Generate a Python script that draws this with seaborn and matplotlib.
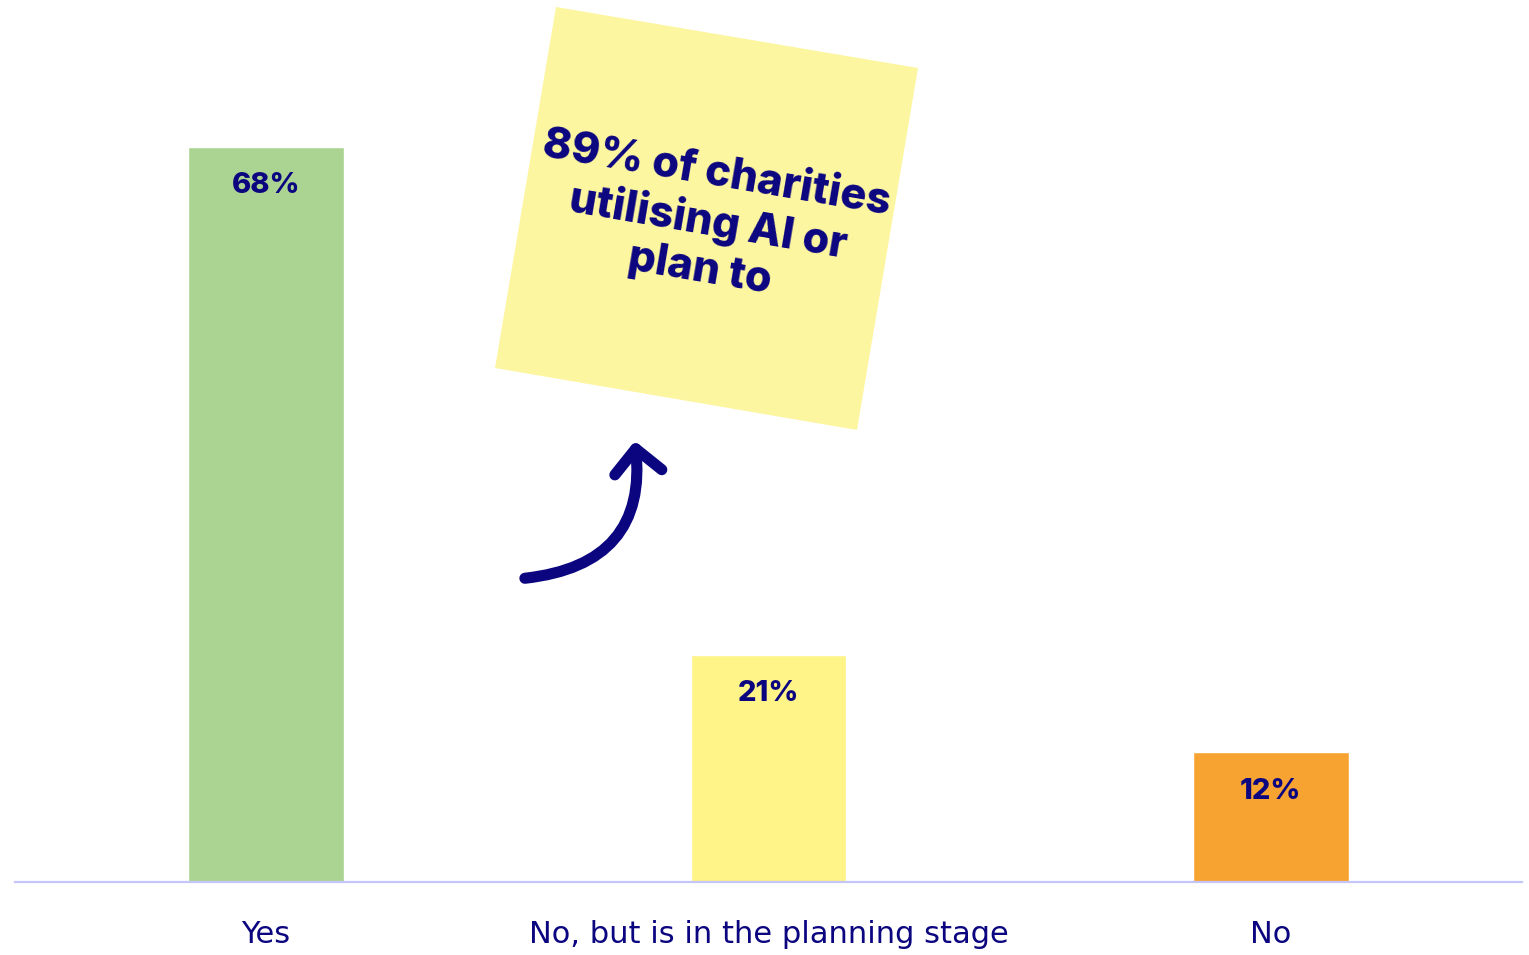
import matplotlib
matplotlib.use("Agg")
import matplotlib.pyplot as plt
import seaborn as sns
import pandas as pd
from matplotlib.patches import Polygon

categories = ["Yes", "No, but is in the planning stage", "No"]
values = [68, 21, 12]
value_labels = ["68%", "21%", "12%"]
bar_colors = ["#abd493", "#fef488", "#f7a331"]
note_text = "89% of charities\nutilising AI or\nplan to"

NAVY = "#0b0580"

sns.set_theme(style="white")
plt.rcParams["font.family"] = ["Inter", "DejaVu Sans"]

df = pd.DataFrame({"category": categories, "value": values})

W, H = 1529, 955
fig = plt.figure(figsize=(W / 100, H / 100), dpi=100)
ax = fig.add_axes([15 / W, (H - 882) / H, (1522 - 15) / W, 882 / H])

sns.barplot(data=df, x="category", y="value", hue="category", palette=bar_colors,
            width=0.31, legend=False, ax=ax, saturation=1)

ax.set_xlim(-0.5, 2.5)
ax.set_ylim(0, 81.6)
ax.set_xlabel("")
ax.set_ylabel("")
ax.set_yticks([])
for s in ["top", "right", "left"]:
    ax.spines[s].set_visible(False)
ax.spines["bottom"].set_color("#c3c6f7")
ax.spines["bottom"].set_linewidth(1.6)
ax.tick_params(axis="x", length=0, pad=27, labelsize=22, labelcolor=NAVY)
for t in ax.get_xticklabels():
    t.set_fontfamily(["DejaVu Sans"])

for i, (v, lab) in enumerate(zip(values, value_labels)):
    ax.text(i, v - 3.6, lab, ha="center", va="center", fontsize=21,
            fontweight="heavy", color=NAVY)

# sticky note
corners_px = [(556, 7), (918, 68), (857, 430), (495, 368)]
corners = [(x / W, (H - y) / H) for x, y in corners_px]
fig.patches.append(Polygon(corners, closed=True, transform=fig.transFigure,
                           facecolor="#fdf6a0", edgecolor="none", zorder=3))
fig.text(708 / W, (H - 222) / H, note_text, ha="center", va="center",
         rotation=-9.6, rotation_mode="anchor", multialignment="center",
         fontsize=31, fontweight="heavy", color=NAVY, linespacing=1.2, zorder=4)

# curved arrow
ax.annotate("", xy=(0.734, 40.8), xytext=(0.515, 28.1),
            arrowprops=dict(arrowstyle="->,head_length=17,head_width=17",
                            mutation_scale=1, connectionstyle="arc3,rad=0.5",
                            color=NAVY, lw=8, shrinkA=0, shrinkB=0,
                            capstyle="round", joinstyle="round"))

fig.savefig("out.png", dpi=100, facecolor="white")
